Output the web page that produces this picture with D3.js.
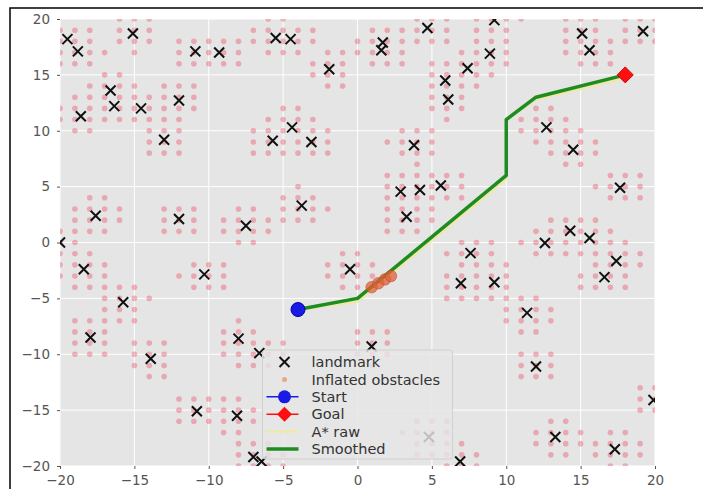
<!DOCTYPE html>
<html>
<head>
<meta charset="utf-8">
<script src="https://cdn.jsdelivr.net/npm/d3@7"></script>
<style>
  body { margin: 0; background: #fff; }
  svg { display: block; font-family: "DejaVu Sans", sans-serif; }
</style>
</head>
<body>
<svg id="chart" width="703" height="489"></svg>
<script>
// landmark positions
const landmarkX = [-19.5, -18.8, -15.1, -18.6, -16.6, -16.35, -14.55, -13.0, -12.0, -10.9, -9.3,
  -5.5, -4.5, -1.9, 1.7, 1.6, 4.7, 9.2, 8.9, 7.4, 5.9, 6.1, 15.1, 15.6, 19.2,
  -4.4, -5.7, -3.1, 3.8, 12.7, 14.5,
  -17.6, -12.0, -7.5, -3.75, 2.9, 4.2, 5.6, 3.3, 17.65,
  -20.0, -18.4, -10.3, -0.5, 7.6, 12.6, 14.3, 15.6, 17.4, 16.6, 6.95, 9.2,
  -15.75, 11.4,
  -17.95, -8.0, -6.6, 0.95, -13.9, 12.0,
  -10.8, -8.1, 19.9, 4.8, 13.3, 17.3, -7.0, -6.45, 6.9];
const landmarkY = [18.2, 17.1, 18.7, 11.3, 13.6, 12.2, 12.0, 9.2, 12.7, 17.1, 17.0,
  18.3, 18.2, 15.5, 17.9, 17.2, 19.2, 19.9, 16.9, 15.6, 14.5, 12.8, 18.7, 17.2, 18.9,
  10.3, 9.1, 9.0, 8.7, 10.3, 8.3,
  2.4, 2.1, 1.5, 3.3, 4.55, 4.7, 5.1, 2.3, 4.9,
  0.0, -2.4, -2.85, -2.4, -0.95, -0.05, 1.05, 0.4, -1.65, -3.1, -3.65, -3.55,
  -5.35, -6.3,
  -8.5, -8.6, -9.9, -9.3, -10.4, -11.1,
  -15.1, -15.5, -14.1, -17.4, -17.4, -18.5, -19.2, -19.6, -19.6];

const inflateRadius = 1.85;   // grid cells within this distance of a landmark
const start = [-4, -6];
const goal = [18, 15];
const rawPath = [[-4, -6], [0, -5.3], [10, 5.7], [10, 11], [12, 12.8], [18, 14.7]];
const smoothPath = [[-4, -6], [0, -5], [10, 6], [10, 11], [12, 13], [18, 15]];
const pathMarks = [[0.95, -4.0], [1.4, -3.65], [1.85, -3.3], [2.25, -3.0]];

const tickValues = [-20, -15, -10, -5, 0, 5, 10, 15, 20];
const legendLabels = ["landmark", "Inflated obstacles", "Start", "Goal", "A* raw", "Smoothed"];

const svg = d3.select("#chart");
const margin = { top: 19, right: 48, bottom: 23, left: 60 };
const width = 703, height = 489;

const x = d3.scaleLinear().domain([-20, 20]).range([margin.left, width - margin.right]);
const y = d3.scaleLinear().domain([-20, 20]).range([height - margin.bottom, margin.top]);

// outer frame
svg.append("rect")
  .attr("x", 10).attr("y", 8)
  .attr("width", 720).attr("height", 500)
  .attr("fill", "none").attr("stroke", "#000").attr("stroke-width", 1.5);

// plot background
svg.append("rect")
  .attr("x", x(-20)).attr("y", y(20))
  .attr("width", x(20) - x(-20)).attr("height", y(-20) - y(20))
  .attr("fill", "#e5e5e5");

svg.append("clipPath").attr("id", "plot-clip")
  .append("rect")
  .attr("x", x(-20)).attr("y", y(20))
  .attr("width", x(20) - x(-20)).attr("height", y(-20) - y(20));

// grid
const grid = svg.append("g").attr("stroke", "#ffffff").attr("stroke-width", 1);
grid.selectAll(".gx").data(tickValues).enter().append("line")
  .attr("x1", d => x(d)).attr("x2", d => x(d))
  .attr("y1", y(20)).attr("y2", y(-20));
grid.selectAll(".gy").data(tickValues).enter().append("line")
  .attr("y1", d => y(d)).attr("y2", d => y(d))
  .attr("x1", x(-20)).attr("x2", x(20));

// axes
const xAxis = svg.append("g")
  .attr("transform", `translate(0,${y(-20)})`)
  .call(d3.axisBottom(x).tickValues(tickValues).tickSize(3).tickPadding(6));
const yAxis = svg.append("g")
  .attr("transform", `translate(${x(-20)},0)`)
  .call(d3.axisLeft(y).tickValues(tickValues).tickSize(3).tickPadding(7));
[xAxis, yAxis].forEach(a => {
  a.select(".domain").remove();
  a.selectAll("line").attr("stroke", "#555");
  a.selectAll("text").attr("fill", "#555").attr("font-size", "13.5px")
    .attr("font-family", "DejaVu Sans, sans-serif");
});

const plot = svg.append("g").attr("clip-path", "url(#plot-clip)");

// inflated obstacle cells derived from landmarks
const landmarks = landmarkX.map((lx, i) => [lx, landmarkY[i]]);
const cellSet = new Set();
const obstacles = [];
landmarks.forEach(([lx, ly]) => {
  for (let gx = Math.floor(lx - 2); gx <= Math.ceil(lx + 2); gx++) {
    for (let gy = Math.floor(ly - 2); gy <= Math.ceil(ly + 2); gy++) {
      if (Math.hypot(gx - lx, gy - ly) <= inflateRadius && !cellSet.has(gx + "," + gy)) {
        cellSet.add(gx + "," + gy);
        obstacles.push([gx, gy]);
      }
    }
  }
});

plot.selectAll(".obs").data(obstacles).enter().append("circle")
  .attr("cx", d => x(d[0])).attr("cy", d => y(d[1]))
  .attr("r", 2.8)
  .attr("fill", "#f01c3c").attr("fill-opacity", 0.3);

// landmarks as x markers
const xMark = (g, cx, cy, s) => {
  g.append("path")
    .attr("d", `M${cx - s},${cy - s}L${cx + s},${cy + s}M${cx - s},${cy + s}L${cx + s},${cy - s}`)
    .attr("stroke", "#111").attr("stroke-width", 2).attr("fill", "none");
};
landmarks.forEach(d => xMark(plot, x(d[0]), y(d[1]), 5));

// paths
const line = d3.line().x(d => x(d[0])).y(d => y(d[1]));
plot.append("path").datum(rawPath)
  .attr("d", line).attr("fill", "none")
  .attr("stroke", "#eee8aa").attr("stroke-width", 2.5);
plot.append("path").datum(smoothPath)
  .attr("d", line).attr("fill", "none")
  .attr("stroke", "#1e8c1e").attr("stroke-width", 3.5).attr("stroke-linejoin", "round");

plot.selectAll(".pm").data(pathMarks).enter().append("circle")
  .attr("cx", d => x(d[0])).attr("cy", d => y(d[1]))
  .attr("r", 5.8)
  .attr("fill", "#e0603a").attr("fill-opacity", 0.75)
  .attr("stroke", "#c0452c").attr("stroke-opacity", 0.5);

// start and goal
const diamond = (cx, cy, s) => `M${cx},${cy - s}L${cx + s},${cy}L${cx},${cy + s}L${cx - s},${cy}Z`;
plot.append("circle")
  .attr("cx", x(start[0])).attr("cy", y(start[1])).attr("r", 7)
  .attr("fill", "#1a1ae6").attr("stroke", "#0000aa").attr("stroke-width", 1);
plot.append("path")
  .attr("d", diamond(x(goal[0]), y(goal[1]), 8))
  .attr("fill", "#ff1010").attr("stroke", "#cc0000").attr("stroke-width", 1);

// legend, lower center
const lg = svg.append("g");
const lgW = 190, lgH = 109;
const lgX = x(0) - lgW / 2, lgY = y(-20) - 7 - lgH;
lg.append("rect")
  .attr("x", lgX).attr("y", lgY).attr("width", lgW).attr("height", lgH)
  .attr("rx", 3)
  .attr("fill", "#e5e5e5").attr("fill-opacity", 0.82)
  .attr("stroke", "#d0d0d0").attr("stroke-width", 1);

const rowH = 17.4;
const hx0 = lgX + 4, hx1 = lgX + 36, hc = (hx0 + hx1) / 2 + 2;
legendLabels.forEach((label, i) => {
  const cy = lgY + 12 + i * rowH;
  if (i === 0) xMark(lg, hc, cy, 5);
  if (i === 1) lg.append("circle").attr("cx", hc).attr("cy", cy).attr("r", 2.5)
    .attr("fill", "#e39a6f").attr("fill-opacity", 0.8);
  if (i === 2) {
    lg.append("line").attr("x1", hx0).attr("x2", hx1).attr("y1", cy).attr("y2", cy)
      .attr("stroke", "#1a1ae6").attr("stroke-width", 1.5);
    lg.append("circle").attr("cx", hc).attr("cy", cy).attr("r", 6.5).attr("fill", "#1a1ae6");
  }
  if (i === 3) {
    lg.append("line").attr("x1", hx0).attr("x2", hx1).attr("y1", cy).attr("y2", cy)
      .attr("stroke", "#ff1010").attr("stroke-width", 1.5);
    lg.append("path").attr("d", diamond(hc, cy, 7.5)).attr("fill", "#ff1010");
  }
  if (i === 4) lg.append("line").attr("x1", hx0).attr("x2", hx1).attr("y1", cy).attr("y2", cy)
    .attr("stroke", "#eee8aa").attr("stroke-width", 2.5);
  if (i === 5) lg.append("line").attr("x1", hx0).attr("x2", hx1).attr("y1", cy).attr("y2", cy)
    .attr("stroke", "#1e8c1e").attr("stroke-width", 3.5);
  lg.append("text")
    .attr("x", lgX + 49).attr("y", cy).attr("dy", "0.36em")
    .attr("font-size", "14.5px").attr("fill", "#333")
    .text(label);
});
</script>
</body>
</html>
